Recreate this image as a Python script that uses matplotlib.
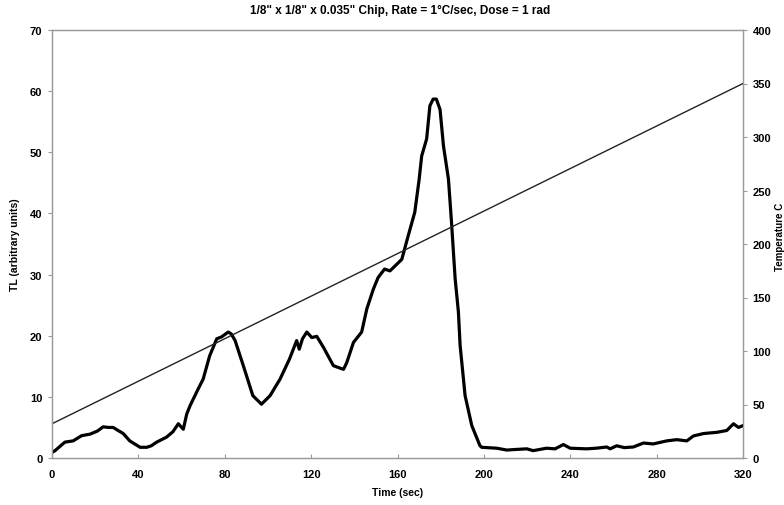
import matplotlib

matplotlib.use("Agg")
import matplotlib.pyplot as plt  # noqa: E402

plt.rcParams["font.family"] = ["Liberation Sans", "DejaVu Sans"]
plt.rcParams["font.weight"] = "bold"

# TL glow curve
time_s = [0, 1.4, 4, 6, 9.8, 13.7, 17.6, 21, 23.7, 26,
          28.3, 30.6, 33, 36, 40.8, 43.9, 46, 48.5, 53, 56,
          58.5, 60.8, 62.4, 64, 67.7, 70, 73, 76.3, 78.5, 81.6,
          83, 84.8, 88.6, 93, 97, 101, 105.6, 110, 113.3, 114.5,
          116, 118, 120.3, 122.6, 125.7, 130.3, 133.4, 135, 136.5, 139.6,
          143.4, 145.8, 148.8, 151, 154, 156.5, 159.7, 162, 165, 168,
          170, 171.2, 173.5, 175, 176.5, 178, 179.7, 181.3, 183.6, 185,
          186.7, 188.2, 189, 191.3, 194.4, 198.2, 199, 206, 210.6, 215,
          219.9, 222.8, 229, 233, 236.8, 240, 247.6, 252, 256.9, 258.5,
          261.5, 265, 269.2, 273.9, 278.4, 284.7, 289.3, 294, 297, 301.7,
          307.9, 312.5, 315.6, 317.9, 320]
tl = [0.9, 1.2, 2.0, 2.6, 2.8, 3.65, 3.9, 4.4, 5.1, 5.0,
      5.0, 4.5, 4.0, 2.8, 1.75, 1.75, 2.0, 2.6, 3.4, 4.3,
      5.6, 4.7, 7.2, 8.6, 11.3, 12.9, 16.7, 19.5, 19.8, 20.6,
      20.3, 19.2, 15.1, 10.2, 8.8, 10.2, 12.9, 16.2, 19.2, 17.8,
      19.5, 20.6, 19.7, 19.9, 18.1, 15.1, 14.7, 14.5, 15.6, 18.9,
      20.6, 24.4, 27.6, 29.5, 30.9, 30.6, 31.7, 32.5, 36.4, 40.2,
      45.5, 49.4, 52.2, 57.6, 58.7, 58.7, 57.0, 51.0, 45.6, 38.6,
      29.3, 23.9, 18.4, 10.2, 5.3, 2.0, 1.75, 1.6, 1.3, 1.4,
      1.5, 1.2, 1.6, 1.5, 2.2, 1.6, 1.5, 1.6, 1.8, 1.5,
      2.0, 1.7, 1.8, 2.45, 2.3, 2.8, 3.0, 2.8, 3.6, 4.0,
      4.2, 4.5, 5.6, 5.0, 5.3]

# heating ramp (right axis)
ramp_time = [0, 320]
ramp_temp = [32, 350]

x_ticks = [0, 40, 80, 120, 160, 200, 240, 280, 320]
tl_ticks = [0, 10, 20, 30, 40, 50, 60, 70]
temp_ticks = [0, 50, 100, 150, 200, 250, 300, 350, 400]

SPINE = "#9a9a9a"

fig = plt.figure(figsize=(7.84, 5.06), dpi=100)
ax = fig.add_axes([52 / 784, 1 - 459 / 506, 691 / 784, 428 / 506])
ax2 = ax.twinx()

ax.plot(time_s, tl, color="black", lw=2.3, solid_joinstyle="round",
        solid_capstyle="round", zorder=3)
ax2.plot(ramp_time, ramp_temp, color="#222222", lw=1.0)

ax.set_xlim(0, 320)
ax.set_ylim(0, 70)
ax2.set_ylim(0, 400)
ax.set_xticks(x_ticks)
ax.set_yticks(tl_ticks)
ax2.set_yticks(temp_ticks)

for a in (ax, ax2):
    for s in a.spines.values():
        s.set_color(SPINE)
        s.set_linewidth(0.9)
    a.tick_params(labelsize=8, colors=SPINE, labelcolor="black",
                  length=3, width=0.8)
ax.tick_params(axis="x", direction="in", pad=8)
ax.tick_params(axis="y", direction="out", pad=4)
ax2.tick_params(axis="y", direction="out", pad=4)

ax.set_xlabel("Time (sec)", fontsize=7.5, fontweight="bold", labelpad=6)
ax.set_ylabel("TL (arbitrary units)", fontsize=7.5, fontweight="bold")
ax.yaxis.set_label_coords(-0.047, 0.5)
ax2.set_ylabel("Temperature C", fontsize=7, fontweight="bold", rotation=90)
ax2.yaxis.set_label_coords(1.047, 0.52)

fig.text(0.51, 0.978, '1/8" x 1/8" x 0.035" Chip, Rate = 1\u00b0C/sec, Dose = 1 rad',
         ha="center", va="center", fontsize=8.5, fontweight="bold")

fig.savefig("out.png", dpi=100)
plt.close(fig)
